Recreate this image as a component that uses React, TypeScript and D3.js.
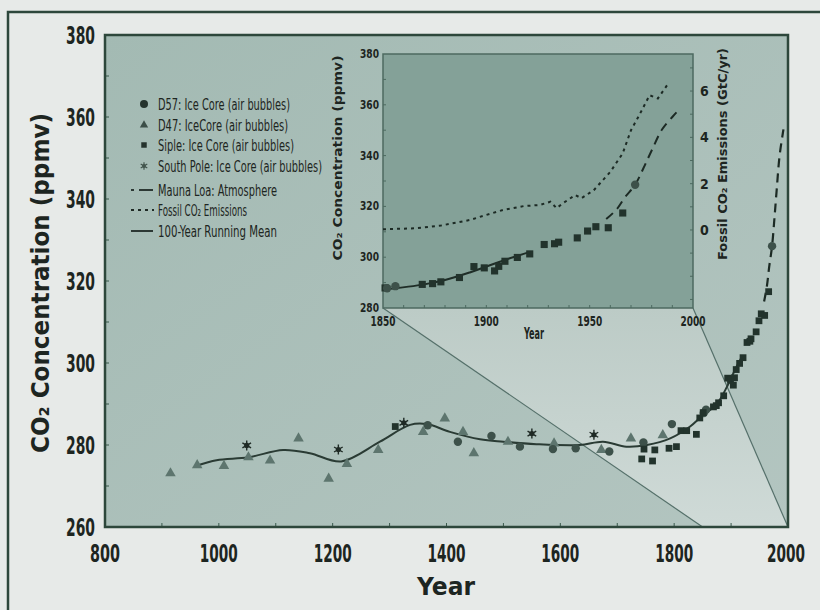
import * as d3 from "d3";

const W = 820;
const H = 610;
const MAIN = { left: 105, right: 788, top: 35, bottom: 527 };
const INSET = { left: 383, right: 693, top: 54, bottom: 308 };

// ice core data
const d47Years = [915, 962, 1009, 1052, 1090, 1140, 1193, 1225, 1280, 1359, 1397, 1429, 1448, 1508, 1589, 1672, 1724, 1780];
const d47Co2 = [273.1, 275.1, 274.9, 277.0, 276.2, 281.6, 271.8, 275.4, 278.8, 283.2, 286.5, 283.2, 278.0, 280.8, 280.4, 278.8, 281.6, 282.4];

const d57Years = [1367, 1420, 1479, 1529, 1587, 1627, 1686, 1746, 1796, 1852, 1856, 1972];
const d57Co2 = [284.8, 280.8, 282.2, 279.6, 279.0, 279.2, 278.4, 280.6, 285.1, 287.8, 288.6, 328.5];

const southPoleYears = [1049, 1210, 1325, 1550, 1659];
const southPoleCo2 = [279.9, 278.9, 285.4, 282.8, 282.5];

const sipleYears = [1310, 1743, 1747, 1762, 1766, 1791, 1804, 1812, 1822, 1839, 1845, 1851, 1869, 1874, 1878, 1887, 1894, 1899, 1904, 1906, 1909, 1915, 1921, 1928, 1933, 1935, 1944, 1949, 1953, 1959, 1966];
const sipleCo2 = [284.5, 276.6, 279.0, 276.1, 278.8, 279.2, 279.6, 283.5, 283.5, 282.6, 286.6, 287.9, 289.3, 289.6, 290.3, 292.0, 296.3, 295.8, 294.6, 296.4, 298.4, 299.9, 301.3, 305.0, 305.3, 305.9, 307.6, 310.3, 312.0, 311.6, 317.4];

const meanYears = [962, 996, 1052, 1113, 1160, 1215, 1283, 1336, 1365, 1406, 1459, 1500, 1558, 1634, 1675, 1716, 1752, 1793, 1828, 1850, 1870, 1880, 1892, 1900, 1910, 1920];
const meanCo2 = [275.0, 276.3, 277.0, 278.8, 278.0, 276.0, 280.8, 284.9, 285.1, 283.2, 281.4, 280.8, 280.2, 280.0, 280.8, 279.6, 280.0, 281.6, 284.5, 287.2, 289.3, 291.0, 294.0, 296.3, 299.2, 301.8];

const maunaLoaYears = [1958, 1963, 1967, 1972, 1976, 1980, 1985, 1990, 1992];
const maunaLoaCo2 = [315.0, 318.8, 323.5, 328.5, 335.0, 342.0, 350.3, 355.2, 357.0];

const fossilYears = [1850, 1865, 1878, 1892, 1900, 1908, 1918, 1926, 1931, 1934, 1937, 1943, 1946, 1952, 1960, 1966, 1970, 1974, 1979, 1983, 1988];
const fossilGtc = [0.03, 0.07, 0.19, 0.43, 0.65, 0.86, 1.03, 1.08, 1.22, 0.94, 1.15, 1.51, 1.37, 1.72, 2.51, 3.31, 4.31, 4.96, 5.82, 5.68, 6.32];

const mainYTicks = [260, 280, 300, 320, 340, 360, 380];
const mainXTicks = [800, 1000, 1200, 1400, 1600, 1800, 2000];
const insetYTicks = [280, 300, 320, 340, 360, 380];
const insetXTicks = [1850, 1900, 1950, 2000];
const insetRTicks = [0, 2, 4, 6];

const legendLabels = [
  "D57: Ice Core (air bubbles)",
  "D47: IceCore (air bubbles)",
  "Siple: Ice Core (air bubbles)",
  "South Pole: Ice Core (air bubbles)",
  "Mauna Loa: Atmosphere",
  "Fossil CO₂ Emissions",
  "100-Year Running Mean",
];
const legendWidths = [132, 130, 136, 164, 119, 89, 119];

const NARROW = "'Liberation Sans Narrow', 'DejaVu Sans Condensed', sans-serif";
const HEAVY = "'DejaVu Sans', Verdana, sans-serif";
const INK = "#1d2521";

const zip = (xs: number[], ys: number[]) => xs.map((x, i) => [x, ys[i]] as [number, number]);

const sym = (type: d3.SymbolType, size: number) => d3.symbol().type(type).size(size)() as string;

function Marks({ kind, pts, x, y, s = 1 }: any) {
  if (kind === "circle")
    return pts.map((p: any, i: number) => (
      <circle key={i} cx={x(p[0])} cy={y(p[1])} r={4.2 * s} fill="#3d514a" />
    ));
  if (kind === "triangle")
    return pts.map((p: any, i: number) => (
      <path key={i} d={sym(d3.symbolTriangle, 48 * s * s)} transform={`translate(${x(p[0])},${y(p[1])})`} fill="#5d756e" />
    ));
  if (kind === "square")
    return pts.map((p: any, i: number) => (
      <path key={i} d={sym(d3.symbolSquare, 46 * s * s)} transform={`translate(${x(p[0])},${y(p[1])})`} fill="#22332c" />
    ));
  return pts.map((p: any, i: number) => (
    <g key={i} transform={`translate(${x(p[0])},${y(p[1])})`}>
      <circle r={2.6 * s} fill="#1f2a25" />
      <path d={sym(d3.symbolAsterisk, 70 * s * s)} stroke="#1f2a25" strokeWidth={1.4} fill="none" />
    </g>
  ));
}

export default function App() {
  const x = d3.scaleLinear().domain([800, 2000]).range([MAIN.left, MAIN.right]);
  const y = d3.scaleLinear().domain([260, 380]).range([MAIN.bottom, MAIN.top]);
  const xi = d3.scaleLinear().domain([1850, 2000]).range([INSET.left, INSET.right]);
  const yi = d3.scaleLinear().domain([280, 380]).range([INSET.bottom, INSET.top]);
  const yr = d3.scaleLinear().domain([-3.37, 7.6]).range([INSET.bottom, INSET.top]);

  const meanPts = zip(meanYears, meanCo2);
  const mlPts = zip(maunaLoaYears, maunaLoaCo2);

  const lineMain = d3.line<[number, number]>().x((d) => x(d[0])).y((d) => y(d[1])).curve(d3.curveCatmullRom);
  const lineInset = d3.line<[number, number]>().x((d) => xi(d[0])).y((d) => yi(d[1])).curve(d3.curveCatmullRom);
  const lineFossil = d3.line<[number, number]>().x((d) => xi(d[0])).y((d) => yr(d[1]));

  const after = (pts: [number, number][]) => pts.filter((p) => p[0] >= 1850);

  const trap = [
    [xi(1850), yi(280)],
    [xi(2000), yi(280)],
    [x(2000), y(260)],
    [x(1850), y(260)],
  ];

  const legendY = [104, 125, 145, 166, 190, 210, 231];

  return (
    <svg width={W} height={H} style={{ position: "absolute", left: 0, top: 0 }}>
      <defs>
        <linearGradient id="plotBg" x1="0" y1="0" x2="1" y2="1">
          <stop offset="0" stopColor="#a3bab3" />
          <stop offset="1" stopColor="#b3c5c0" />
        </linearGradient>
        <linearGradient id="trapBg" x1="0" y1="0" x2="0" y2="1">
          <stop offset="0" stopColor="#bccbc6" />
          <stop offset="1" stopColor="#cfdad7" />
        </linearGradient>
        <clipPath id="mainClip">
          <rect x={MAIN.left} y={MAIN.top} width={MAIN.right - MAIN.left} height={MAIN.bottom - MAIN.top} />
        </clipPath>
      </defs>
      <rect width={W} height={H} fill="#e7eae8" />
      {/* outer frame */}
      <path d={`M8,${H}V12H${W}`} fill="none" stroke="#2d473b" strokeWidth={2.5} />

      {/* main plot */}
      <rect x={MAIN.left} y={MAIN.top} width={MAIN.right - MAIN.left} height={MAIN.bottom - MAIN.top} fill="url(#plotBg)" />
      <polygon points={trap.map((p) => p.join(",")).join(" ")} fill="url(#trapBg)" />
      <line x1={trap[0][0]} y1={trap[0][1]} x2={trap[3][0]} y2={trap[3][1]} stroke="#55706a" strokeWidth={1.2} />
      <line x1={trap[1][0]} y1={trap[1][1]} x2={trap[2][0]} y2={trap[2][1]} stroke="#55706a" strokeWidth={1.2} />

      {d3.range(270, 380, 10).map((v) => (
        <line key={v} x1={MAIN.left} x2={MAIN.left + 4} y1={y(v)} y2={y(v)} stroke="#3a5a4c" strokeWidth={1} />
      ))}
      {d3.range(900, 2000, 100).map((v) => (
        <line key={v} x1={x(v)} x2={x(v)} y1={MAIN.bottom} y2={MAIN.bottom - 4} stroke="#3a5a4c" strokeWidth={1} />
      ))}

      <g clipPath="url(#mainClip)">
        <path d={lineMain(meanPts) || ""} fill="none" stroke="#2a3b34" strokeWidth={2} />
        <path d={lineMain(mlPts) || ""} fill="none" stroke="#1c2a24" strokeWidth={2.2} strokeDasharray="9,6" />
        <Marks kind="triangle" pts={zip(d47Years, d47Co2)} x={x} y={y} />
        <Marks kind="circle" pts={zip(d57Years, d57Co2)} x={x} y={y} />
        <Marks kind="square" pts={zip(sipleYears, sipleCo2)} x={x} y={y} />
        <Marks kind="star" pts={zip(southPoleYears, southPoleCo2)} x={x} y={y} />
      </g>
      <rect x={MAIN.left} y={MAIN.top} width={MAIN.right - MAIN.left} height={MAIN.bottom - MAIN.top} fill="none" stroke="#2d473b" strokeWidth={2.5} />

      {mainYTicks.map((v) => (
        <text key={v} x={95} y={y(v) + 9} textAnchor="end" fontFamily={NARROW} fontWeight="bold" fontSize={25} fill={INK} textLength={29} lengthAdjust="spacingAndGlyphs">
          {v}
        </text>
      ))}
      {mainXTicks.map((v) => (
        <text key={v} transform={`translate(${v === 2000 ? x(v) - 2 : x(v)},562) scale(1,1.35)`} textAnchor="middle" fontFamily={NARROW} fontWeight="bold" fontSize={18.5} fill={INK} textLength={v < 1000 ? 30 : 38} lengthAdjust="spacingAndGlyphs">
          {v}
        </text>
      ))}
      <text x={446} y={595} textAnchor="middle" fontFamily={HEAVY} fontWeight="bold" fontSize={24} fill={INK} textLength={58} lengthAdjust="spacingAndGlyphs">
        Year
      </text>
      <text transform="translate(49,283) rotate(-90)" textAnchor="middle" fontFamily={HEAVY} fontWeight="bold" fontSize={24} fill={INK} textLength={340} lengthAdjust="spacingAndGlyphs">
        CO₂ Concentration (ppmv)
      </text>

      {/* inset */}
      <rect x={INSET.left} y={INSET.top} width={INSET.right - INSET.left} height={INSET.bottom - INSET.top} fill="#84a198" stroke="#4d6a60" strokeWidth={1.5} />
      {d3.range(290, 380, 10).map((v) => (
        <line key={v} x1={INSET.left} x2={INSET.left + 3} y1={yi(v)} y2={yi(v)} stroke="#4d6a60" />
      ))}
      {d3.range(-3, 8, 1).map((v) => (
        <line key={v} x1={INSET.right} x2={INSET.right - 3} y1={yr(v)} y2={yr(v)} stroke="#4d6a60" />
      ))}
      {d3.range(1860, 2000, 10).map((v) => (
        <line key={v} x1={xi(v)} x2={xi(v)} y1={INSET.bottom} y2={INSET.bottom - 3} stroke="#4d6a60" />
      ))}
      <path d={lineFossil(zip(fossilYears, fossilGtc)) || ""} fill="none" stroke="#1c2a24" strokeWidth={2} strokeDasharray="3,4" />
      <path d={lineInset(after(meanPts)) || ""} fill="none" stroke="#1f2d27" strokeWidth={2} />
      <path d={lineInset(mlPts) || ""} fill="none" stroke="#1c2a24" strokeWidth={2} strokeDasharray="9,6" />
      <Marks kind="square" pts={after(zip(sipleYears, sipleCo2))} x={xi} y={yi} s={1.05} />
      <Marks kind="circle" pts={after(zip(d57Years, d57Co2))} x={xi} y={yi} s={1} />

      {insetYTicks.map((v) => (
        <text key={v} transform={`translate(379,${yi(v) + 4}) scale(1,1.3)`} textAnchor="end" fontFamily={NARROW} fontWeight="bold" fontSize={10} fill={INK} textLength={19} lengthAdjust="spacingAndGlyphs">
          {v}
        </text>
      ))}
      {insetXTicks.map((v) => (
        <text key={v} transform={`translate(${xi(v)},326) scale(1,1.3)`} textAnchor="middle" fontFamily={NARROW} fontWeight="bold" fontSize={11} fill={INK} textLength={25} lengthAdjust="spacingAndGlyphs">
          {v}
        </text>
      ))}
      {insetRTicks.map((v) => (
        <text key={v} x={700} y={yr(v) + 5} textAnchor="start" fontFamily={NARROW} fontWeight="bold" fontSize={14} fill={INK}>
          {v}
        </text>
      ))}
      <text x={534} y={339} textAnchor="middle" fontFamily={NARROW} fontWeight="bold" fontSize={15} fill={INK} textLength={20} lengthAdjust="spacingAndGlyphs">
        Year
      </text>
      <text transform="translate(342,158) rotate(-90)" textAnchor="middle" fontFamily={HEAVY} fontWeight="bold" fontSize={13} fill={INK} textLength={205} lengthAdjust="spacingAndGlyphs">
        CO₂ Concentration (ppmv)
      </text>
      <text transform="translate(727,154) rotate(-90)" textAnchor="middle" fontFamily={HEAVY} fontWeight="bold" fontSize={13} fill={INK} textLength={212} lengthAdjust="spacingAndGlyphs">
        Fossil CO₂ Emissions (GtC/yr)
      </text>

      {/* legend */}
      <g>
        <circle cx={144} cy={legendY[0]} r={4} fill="#25332d" />
        <path d={sym(d3.symbolTriangle, 30)} transform={`translate(144,${legendY[1]})`} fill="#3c4f48" />
        <path d={sym(d3.symbolSquare, 30)} transform={`translate(144,${legendY[2]})`} fill="#25332d" />
        <g transform={`translate(144,${legendY[3]})`}>
          <circle r={2} fill="#44574f" />
          <path d={sym(d3.symbolAsterisk, 40)} stroke="#44574f" strokeWidth={1.2} fill="none" />
        </g>
        <line x1={131} x2={134} y1={legendY[4]} y2={legendY[4]} stroke="#1f2a25" strokeWidth={1.8} />
        <line x1={139} x2={153} y1={legendY[4]} y2={legendY[4]} stroke="#1f2a25" strokeWidth={1.8} />
        <line x1={131} x2={154} y1={legendY[5]} y2={legendY[5]} stroke="#1f2a25" strokeWidth={1.8} strokeDasharray="3,4" />
        <line x1={131} x2={153} y1={legendY[6]} y2={legendY[6]} stroke="#1f2a25" strokeWidth={1.8} />
        {legendLabels.map((t, i) => (
          <text key={t} transform={`translate(158,${legendY[i] + 5.5}) scale(1,1.3)`} fontFamily={NARROW} fontSize={12.3} fill={INK} textLength={legendWidths[i]} lengthAdjust="spacingAndGlyphs">
            {t}
          </text>
        ))}
      </g>
    </svg>
  );
}
